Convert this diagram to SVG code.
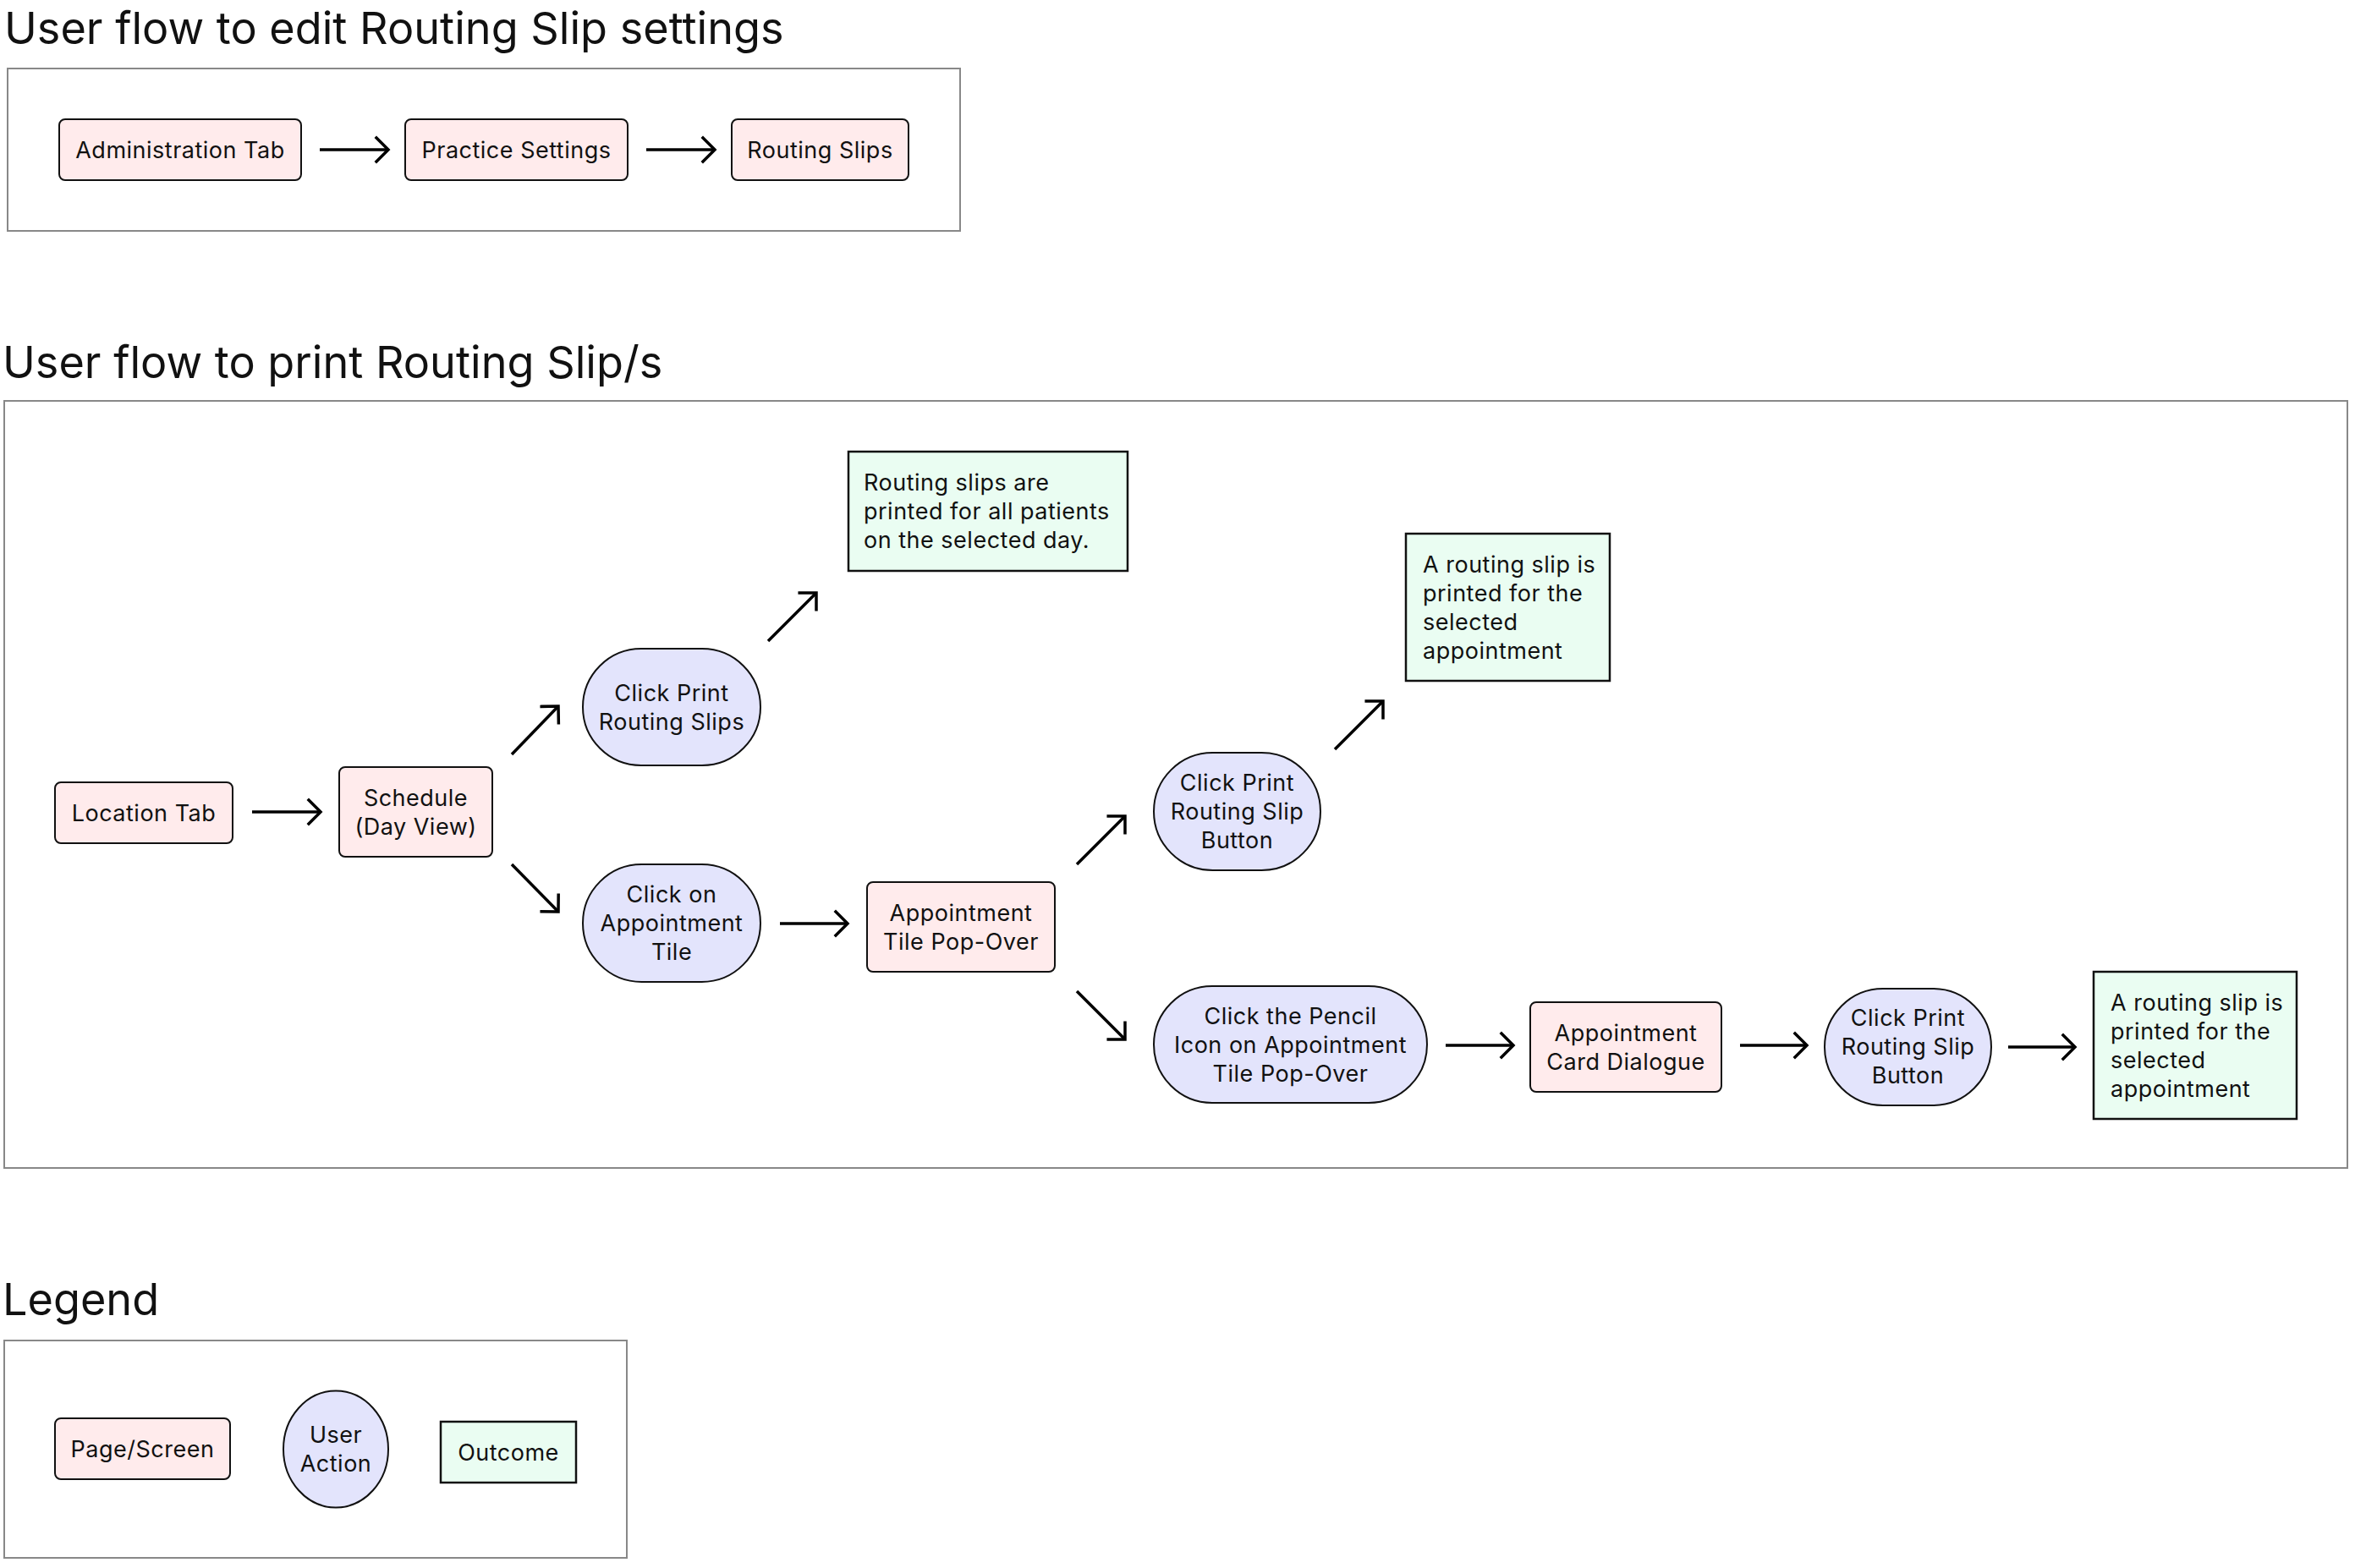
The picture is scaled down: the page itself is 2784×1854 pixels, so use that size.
<svg xmlns="http://www.w3.org/2000/svg" width="2784" height="1854" viewBox="0 0 2784 1854">
<style>
  text { font-family: Inter, "Noto Sans", "Liberation Sans", sans-serif; fill: #111; }
  .title { font-size: 52.2px; }
  .lbl { font-size: 27px; letter-spacing: 0.5px; text-anchor: middle; }
  .lbll { font-size: 27px; letter-spacing: 0.5px; }
  .frame { fill: #fff; stroke: #888; stroke-width: 2; }
  .page { fill: #FFEBEC; stroke: #111; stroke-width: 2; }
  .action { fill: #E3E4FC; stroke: #111; stroke-width: 2; }
  .outcome { fill: #EAFDF2; stroke: #111; stroke-width: 2.5; }
  .conn line { stroke: #000; stroke-width: 3.5; marker-end: url(#arr); }
</style>
<defs>
  <marker id="arr" markerUnits="userSpaceOnUse" viewBox="-20 -20 24 40" refX="0" refY="0" markerWidth="24" markerHeight="40" orient="auto" overflow="visible">
    <path d="M -14 -14 L 0 0 L -14 14" fill="none" stroke="#000" stroke-width="3.5" stroke-linecap="square" stroke-linejoin="miter"/>
  </marker>
</defs>
<rect width="2784" height="1854" fill="#fff"/>

<!-- Section 1 -->
<text class="title" x="5" y="52">User flow to edit Routing Slip settings</text>
<rect class="frame" x="9" y="81" width="1126" height="192"/>

<!-- Section 2 -->
<text class="title" x="3" y="447">User flow to print Routing Slip/s</text>
<rect class="frame" x="5" y="474" width="2770" height="907"/>

<!-- Legend -->
<text class="title" x="3" y="1555">Legend</text>
<rect class="frame" x="5" y="1585" width="736" height="257"/>

<g class="conn" id="connectors">
  <line x1="378" y1="177" x2="459" y2="177"/>
  <line x1="764" y1="177" x2="845" y2="177"/>
  <line x1="298" y1="960" x2="379" y2="960"/>
  <line x1="605" y1="892" x2="660" y2="835"/>
  <line x1="605" y1="1022" x2="660" y2="1078"/>
  <line x1="908" y1="758" x2="965" y2="701"/>
  <line x1="922" y1="1092" x2="1002" y2="1092"/>
  <line x1="1273" y1="1022" x2="1330" y2="965"/>
  <line x1="1273" y1="1172" x2="1330" y2="1229"/>
  <line x1="1578" y1="886" x2="1635" y2="829"/>
  <line x1="1709" y1="1236" x2="1789" y2="1236"/>
  <line x1="2057" y1="1236" x2="2136" y2="1236"/>
  <line x1="2374" y1="1238" x2="2453" y2="1238"/>
</g>

<g id="admin-tab">
  <rect class="page" x="70" y="141" width="286" height="72" rx="7"/>
  <text class="lbl" x="213" y="186.8">Administration Tab</text>
</g>
<g id="practice-settings">
  <rect class="page" x="479" y="141" width="263" height="72" rx="7"/>
  <text class="lbl" x="610.5" y="186.8">Practice Settings</text>
</g>
<g id="routing-slips">
  <rect class="page" x="865" y="141" width="209" height="72" rx="7"/>
  <text class="lbl" x="969.5" y="186.8">Routing Slips</text>
</g>

<g id="location-tab">
  <rect class="page" x="65" y="925" width="210" height="72" rx="7"/>
  <text class="lbl" x="170" y="970.8">Location Tab</text>
</g>
<g id="schedule">
  <rect class="page" x="401" y="907" width="181" height="106" rx="7"/>
  <text class="lbl" x="491.5" y="952.8">Schedule</text>
  <text class="lbl" x="491.5" y="986.8">(Day View)</text>
</g>
<g id="click-print-routing-slips">
  <rect class="action" x="689" y="767" width="210" height="138" rx="69" ry="69"/>
  <text class="lbl" x="794" y="828.8">Click Print</text>
  <text class="lbl" x="794" y="862.8">Routing Slips</text>
</g>
<g id="click-appointment-tile">
  <rect class="action" x="689" y="1022" width="210" height="139" rx="69.5" ry="69.5"/>
  <text class="lbl" x="794" y="1067.3">Click on</text>
  <text class="lbl" x="794" y="1101.3">Appointment</text>
  <text class="lbl" x="794" y="1135.3">Tile</text>
</g>
<g id="outcome-all">
  <rect class="outcome" x="1003" y="534" width="330" height="141"/>
  <text class="lbll" x="1021" y="580.4">Routing slips are</text>
  <text class="lbll" x="1021" y="614.4">printed for all patients</text>
  <text class="lbll" x="1021" y="648.4">on the selected day.</text>
</g>
<g id="appointment-tile-popover">
  <rect class="page" x="1025" y="1043" width="222" height="106" rx="7"/>
  <text class="lbl" x="1136" y="1088.8">Appointment</text>
  <text class="lbl" x="1136" y="1122.8">Tile Pop-Over</text>
</g>
<g id="click-print-button-1">
  <rect class="action" x="1364" y="890" width="197" height="139" rx="69.5" ry="69.5"/>
  <text class="lbl" x="1462.5" y="935.3">Click Print</text>
  <text class="lbl" x="1462.5" y="969.3">Routing Slip</text>
  <text class="lbl" x="1462.5" y="1003.3">Button</text>
</g>
<g id="outcome-single-1">
  <rect class="outcome" x="1662" y="631" width="241" height="174"/>
  <text class="lbll" x="1682" y="676.8">A routing slip is</text>
  <text class="lbll" x="1682" y="710.8">printed for the</text>
  <text class="lbll" x="1682" y="744.8">selected</text>
  <text class="lbll" x="1682" y="778.8">appointment</text>
</g>
<g id="click-pencil">
  <rect class="action" x="1364" y="1166" width="323" height="138" rx="69" ry="69"/>
  <text class="lbl" x="1525.5" y="1210.8">Click the Pencil</text>
  <text class="lbl" x="1525.5" y="1244.8">Icon on Appointment</text>
  <text class="lbl" x="1525.5" y="1278.8">Tile Pop-Over</text>
</g>
<g id="appointment-card">
  <rect class="page" x="1809" y="1185" width="226" height="106" rx="7"/>
  <text class="lbl" x="1922" y="1230.8">Appointment</text>
  <text class="lbl" x="1922" y="1264.8">Card Dialogue</text>
</g>
<g id="click-print-button-2">
  <rect class="action" x="2157" y="1169" width="197" height="138" rx="69" ry="69"/>
  <text class="lbl" x="2255.5" y="1213.3">Click Print</text>
  <text class="lbl" x="2255.5" y="1247.3">Routing Slip</text>
  <text class="lbl" x="2255.5" y="1281.3">Button</text>
</g>
<g id="outcome-single-2">
  <rect class="outcome" x="2475" y="1149" width="240" height="174"/>
  <text class="lbll" x="2495" y="1194.8">A routing slip is</text>
  <text class="lbll" x="2495" y="1228.8">printed for the</text>
  <text class="lbll" x="2495" y="1262.8">selected</text>
  <text class="lbll" x="2495" y="1296.8">appointment</text>
</g>

<g id="legend-page">
  <rect class="page" x="65" y="1677" width="207" height="72" rx="7"/>
  <text class="lbl" x="168.5" y="1722.8">Page/Screen</text>
</g>
<g id="legend-action">
  <ellipse class="action" cx="397" cy="1713.5" rx="62" ry="69"/>
  <text class="lbl" x="397" y="1706.3">User</text>
  <text class="lbl" x="397" y="1740.3">Action</text>
</g>
<g id="legend-outcome">
  <rect class="outcome" x="521" y="1681" width="160" height="72"/>
  <text class="lbl" x="601" y="1726.8">Outcome</text>
</g>
</svg>
